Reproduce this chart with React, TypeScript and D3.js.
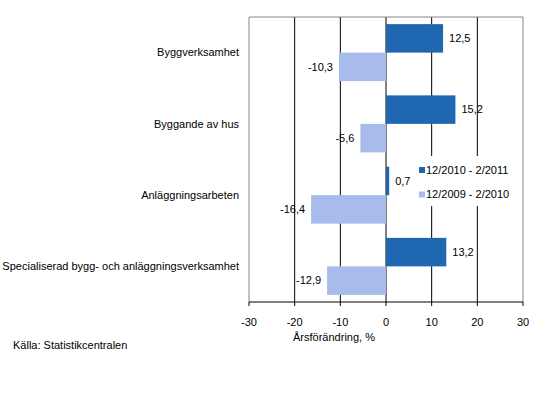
import React from 'react';
import * as d3 from 'd3';

const categories = [
  'Byggverksamhet',
  'Byggande av hus',
  'Anläggningsarbeten',
  'Specialiserad bygg- och anläggningsverksamhet',
];
const seriesNames = ['12/2010 - 2/2011', '12/2009 - 2/2010'];
const current = [12.5, 15.2, 0.7, 13.2];
const previous = [-10.3, -5.6, -16.4, -12.9];
const xTicks = [-30, -20, -10, 0, 10, 20, 30];
const colors = ['#1f68b1', '#a7bcea'];

const W = 538;
const H = 402;
const plot = { left: 249, right: 523, top: 17, bottom: 302 };
const font = '"Liberation Sans", Arial, sans-serif';

const fmt = (v: number) => String(v).replace('.', ',');

export default function App() {
  const x = d3.scaleLinear().domain([-30, 30]).range([plot.left, plot.right]);
  const y = d3.scaleBand<string>().domain(categories).range([plot.top, plot.bottom]).paddingInner(0.2).paddingOuter(0.1);
  const sub = d3.scaleBand<number>().domain([0, 1]).range([0, y.bandwidth()]);
  const series = [current, previous];

  // legend box hides the gridlines behind it
  const legend = { x: 414, y: 156, w: 108, h: 50 };

  return (
    <svg width={W} height={H} style={{ position: 'absolute', left: 0, top: 0 }} fontFamily={font}>
      <rect x={0} y={0} width={W} height={H} fill="#fff" />
      {/* gridlines */}
      {xTicks.slice(1, -1).map((t) => (
        <line key={t} x1={x(t)} x2={x(t)} y1={plot.top} y2={plot.bottom} stroke="#000" strokeWidth={1} />
      ))}
      {/* frame */}
      <path
        d={`M${plot.left},${plot.bottom}V${plot.top}H${plot.right}V${plot.bottom}`}
        fill="none"
        stroke="#868686"
        strokeWidth={1}
      />
      <rect x={legend.x} y={legend.y} width={legend.w} height={legend.h} fill="#fff" />
      {/* bars */}
      {series.map((vals, si) =>
        vals.map((v, i) => {
          const y0 = (y(categories[i]) ?? 0) + (sub(si) ?? 0);
          const x0 = Math.min(x(0), x(v));
          const w = Math.abs(x(v) - x(0));
          return (
            <g key={`${si}-${i}`}>
              <rect x={x0} y={y0} width={w} height={sub.bandwidth()} fill={colors[si]} />
              <text
                x={v >= 0 ? x(v) + 6 : x(v) - 6}
                y={y0 + sub.bandwidth() / 2}
                dy="0.35em"
                fontSize={11}
                textAnchor={v >= 0 ? 'start' : 'end'}
                fill="#000"
              >
                {fmt(v)}
              </text>
            </g>
          );
        })
      )}
      {/* x axis */}
      <line x1={plot.left} x2={plot.right} y1={plot.bottom} y2={plot.bottom} stroke="#000" />
      {xTicks.map((t) => (
        <g key={t}>
          <line x1={x(t)} x2={x(t)} y1={plot.bottom} y2={plot.bottom + 4} stroke="#000" />
          <text x={x(t)} y={plot.bottom + 20} dy="0.35em" textAnchor="middle" fontSize={11}>
            {t}
          </text>
        </g>
      ))}
      <text x={334} y={337} dy="0.35em" textAnchor="middle" fontSize={11}>
        Årsförändring, %
      </text>
      {/* category labels */}
      {categories.map((c) => (
        <text
          key={c}
          x={239}
          y={(y(c) ?? 0) + y.bandwidth() / 2}
          dy="0.35em"
          textAnchor="end"
          fontSize={11}
        >
          {c}
        </text>
      ))}
      {/* legend */}
      {seriesNames.map((n, i) => (
        <g key={n} transform={`translate(419,${170 + i * 24.5})`}>
          <rect x={0} y={-3} width={6} height={6} fill={colors[i]} />
          <text x={7} y={0} dy="0.35em" fontSize={11}>
            {n}
          </text>
        </g>
      ))}
      <text x={13} y={345} dy="0.35em" fontSize={11}>
        Källa: Statistikcentralen
      </text>
    </svg>
  );
}
